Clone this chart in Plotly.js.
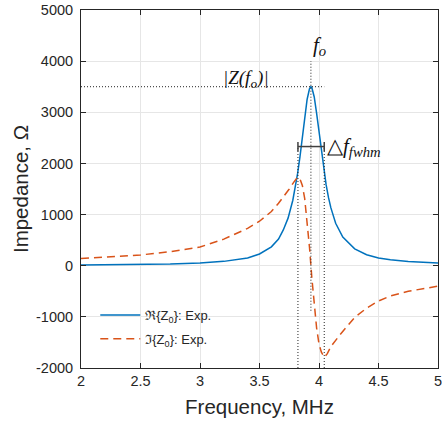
<!DOCTYPE html>
<html>
<head>
<meta charset="utf-8">
<script src="https://cdn.plot.ly/plotly-3.0.1.min.js"></script>
<style>html,body{margin:0;padding:0;background:#fff}#chart{width:442px;height:422px}</style>
</head>
<body>
<div id="chart"></div>
<script>
// Frequency samples (MHz) and values (Ohm)
const freqRe = [2.0,2.25,2.5,2.75,3.0,3.2,3.4,3.5,3.6,3.66,3.7,3.74,3.78,3.8,3.82,3.84,3.86,3.88,3.9,3.92,3.932,3.94,3.96,3.98,4.0,4.02,4.04,4.06,4.08,4.1,4.14,4.2,4.3,4.4,4.5,4.6,4.75,5.0];
const reZ    = [15,20,25,35,55,85,150,230,370,520,700,930,1280,1520,1800,2130,2510,2900,3250,3460,3500,3480,3300,2980,2600,2220,1870,1580,1330,1130,830,560,330,215,150,115,82,52];

const freqIm = [2.0,2.25,2.5,2.75,3.0,3.2,3.4,3.5,3.6,3.66,3.7,3.75,3.79,3.82,3.84,3.86,3.88,3.9,3.92,3.94,3.96,3.98,4.0,4.02,4.045,4.07,4.1,4.18,4.3,4.4,4.5,4.6,4.75,5.0];
const imZ    = [140,170,210,275,365,520,730,870,1060,1220,1340,1500,1640,1730,1700,1570,1310,900,360,-240,-800,-1220,-1530,-1690,-1790,-1720,-1580,-1340,-1010,-830,-690,-590,-500,-400];

// Annotated quantities
const f0 = 3.932;          // resonance frequency
const zPeak = 3500;        // |Z(f0)|
const fwhmLo = 3.823;      // lower half-max frequency
const fwhmHi = 4.044;      // upper half-max frequency
const fwhmBarLevel = 2330; // height of the FWHM bracket
const f0LineBottom = -880;
const f0LineTop = 4000;

const xTicks = [2,2.5,3,3.5,4,4.5,5];
const xTickText = ['2','2.5','3','3.5','4','4.5','5'];
const yTicks = [-2000,-1000,0,1000,2000,3000,4000,5000];
const yTickText = ['-2000','-1000','0','1000','2000','3000','4000','5000'];

const legendRe = 'ℜ{Z<sub>0</sub>}: Exp.';
const legendIm = 'ℑ{Z<sub>0</sub>}: Exp.';

const traces = [
  {x: freqRe, y: reZ, type:'scatter', mode:'lines', name: legendRe, legendgroup:'a',
   line:{color:'#0072BD', width:1.5}},
  {x: freqIm, y: imZ, type:'scatter', mode:'lines', name: legendIm, legendgroup:'b',
   line:{color:'#D95319', width:1.5, dash:'8px,5px'}}
];

const dot = {color:'#222', width:1, dash:'1px,2px'};
const capH = 90;
const shapes = [
  {type:'line', xref:'x', yref:'y', x0:2, x1:fwhmHi, y0:zPeak, y1:zPeak, line:dot},
  {type:'line', xref:'x', yref:'y', x0:f0, x1:f0, y0:f0LineBottom, y1:f0LineTop, line:dot},
  {type:'line', xref:'x', yref:'y', x0:fwhmLo, x1:fwhmLo, y0:-2000, y1:fwhmBarLevel, line:dot},
  {type:'line', xref:'x', yref:'y', x0:fwhmHi, x1:fwhmHi, y0:-2000, y1:fwhmBarLevel, line:dot},
  {type:'line', xref:'x', yref:'y', x0:fwhmLo, x1:fwhmHi, y0:fwhmBarLevel, y1:fwhmBarLevel, line:{color:'#404040', width:1.5}},
  {type:'line', xref:'x', yref:'y', x0:fwhmLo, x1:fwhmLo, y0:fwhmBarLevel-capH, y1:fwhmBarLevel+capH, line:{color:'#404040', width:1.5}},
  {type:'line', xref:'x', yref:'y', x0:fwhmHi, x1:fwhmHi, y0:fwhmBarLevel-capH, y1:fwhmBarLevel+capH, line:{color:'#404040', width:1.5}}
];

const serif = 'Liberation Serif, Times New Roman, serif';
const annotations = [
  {x:3.39, y:3660, xref:'x', yref:'y', showarrow:false, text:'<i>|Z(f<sub>o</sub>)|</i>',
   font:{family:serif, size:19, color:'#111'}},
  {x:4.0, y:4290, xref:'x', yref:'y', showarrow:false, text:'<i>f<sub>o</sub></i>',
   font:{family:serif, size:21, color:'#111'}},
  {x:4.048, y:2330, xref:'x', yref:'y', showarrow:false, xanchor:'left', text:'△<i>f<sub>fwhm</sub></i>',
   font:{family:serif, size:21, color:'#111'}}
];

const axisCommon = {
  showline:true, linecolor:'#262626', linewidth:1, mirror:'ticks',
  ticks:'inside', ticklen:5, tickcolor:'#262626', tickwidth:1,
  showgrid:true, gridcolor:'#e6e6e6', gridwidth:1, zeroline:false,
  ticklabeloverflow:'allow',
  tickfont:{family:'Liberation Sans, Arial, sans-serif', size:14.5, color:'#262626'}
};

const layout = {
  width:442, height:422,
  margin:{l:81, r:4, t:10, b:54},
  paper_bgcolor:'#fff', plot_bgcolor:'#fff',
  showlegend:true,
  legend:{x:0.04, y:0.19, xanchor:'left', yanchor:'top', bgcolor:'rgba(0,0,0,0)', borderwidth:0,
          traceorder:'grouped', tracegroupgap:4, itemwidth:40,
          font:{family:'Liberation Sans, Arial, sans-serif', size:13, color:'#262626'}},
  xaxis:Object.assign({}, axisCommon, {range:[2,5], tickvals:xTicks, ticktext:xTickText,
    title:{text:'Frequency, MHz', standoff:11, font:{family:'Liberation Sans, Arial, sans-serif', size:20.5, color:'#262626'}}}),
  yaxis:Object.assign({}, axisCommon, {range:[-2000,5000], tickvals:yTicks, ticktext:yTickText, ticklabelstandoff:4,
    title:{text:'Impedance, Ω', standoff:1, font:{family:'Liberation Sans, Arial, sans-serif', size:20.5, color:'#262626'}}}),
  shapes:shapes,
  annotations:annotations
};

Plotly.newPlot('chart', traces, layout, {displayModeBar:false, staticPlot:true});
</script>
</body>
</html>
